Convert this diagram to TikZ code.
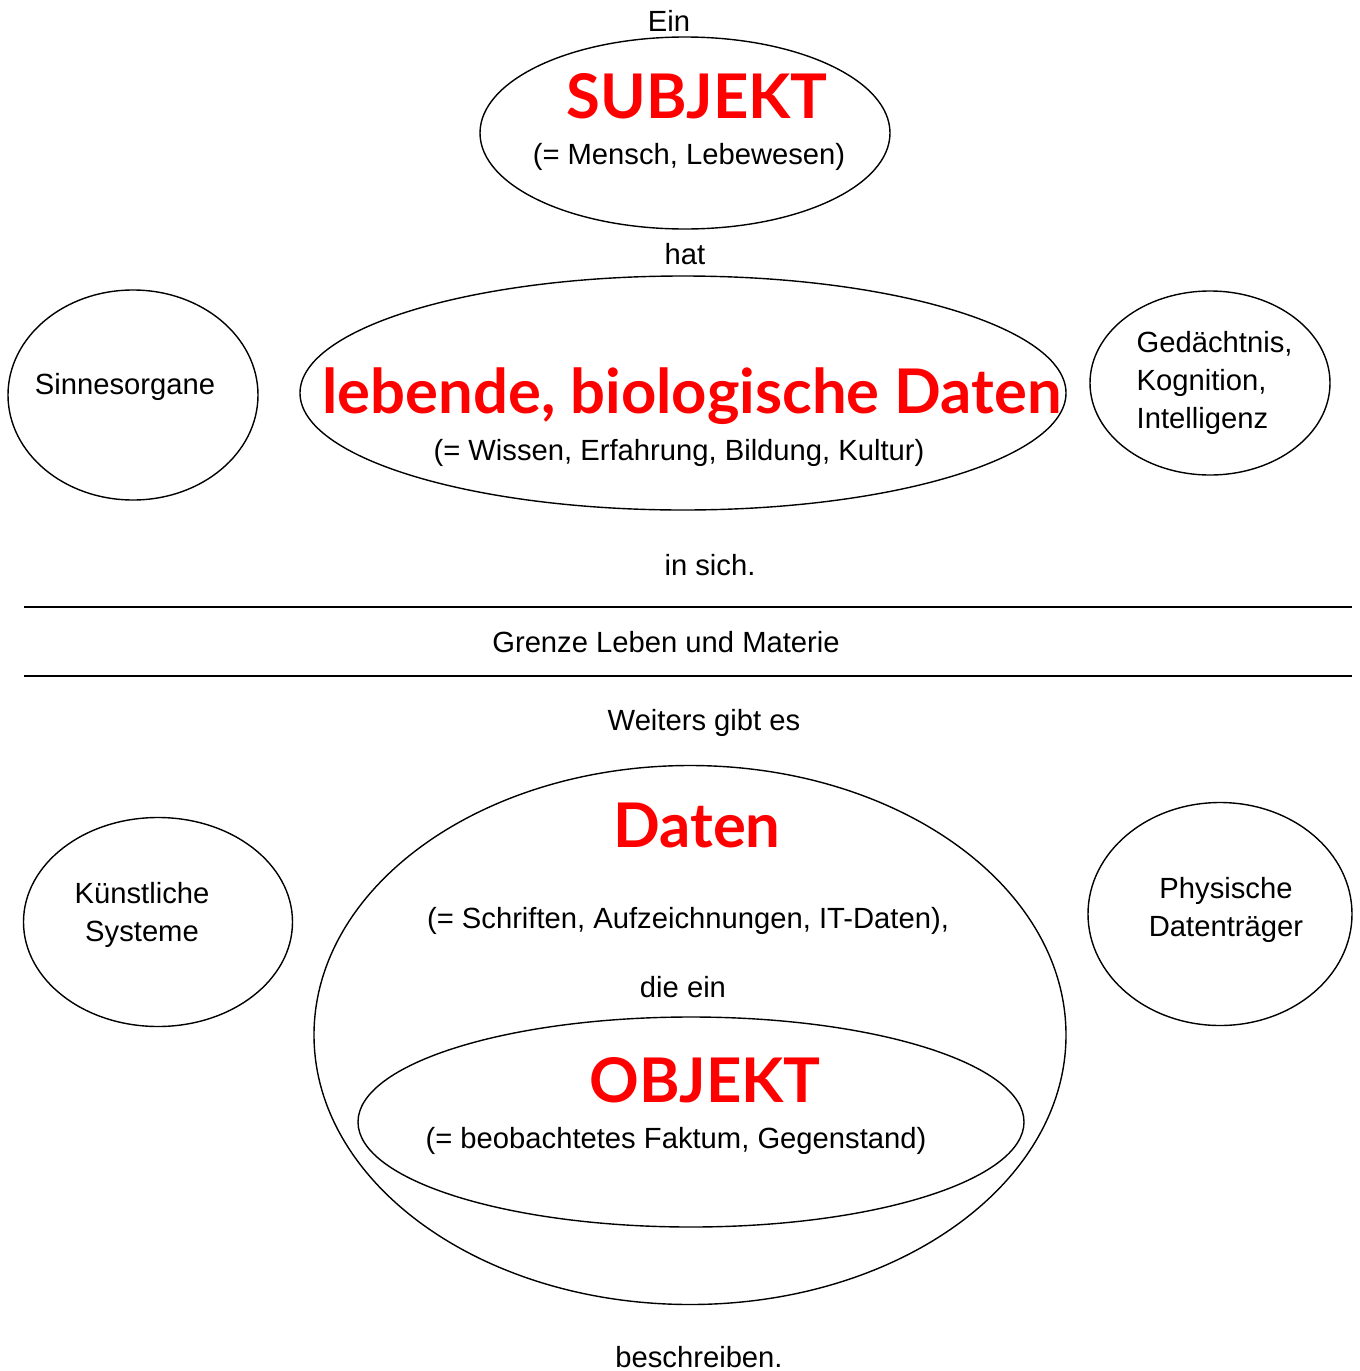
\documentclass[tikz,border=0pt]{standalone}
\usepackage{fontspec}
\setmainfont{Liberation Sans}
\newfontfamily\headfont{Lato}
\usepackage{tikz}
\usetikzlibrary{positioning,shapes}

\begin{document}
\begin{tikzpicture}[x = 0.5pt, y = -0.5pt, line width = 0.7pt,
blob/.style={ ellipse, draw, inner sep = 0pt },
txt/.style={ anchor = base, inner sep = 0pt, font = \fontsize{14.6}{17.5}\selectfont },
head/.style={ anchor = base, inner sep = 0pt, text = red, font = \headfont\bfseries\fontsize{30.8}{32}\selectfont }
]
\useasboundingbox (0,0) rectangle (1360,1371);
%upper half: the subject
\node (subj) at (685,133) [blob, minimum width = 205pt, minimum height = 96pt] {};
\node (ein) at (669,31) [txt] {Ein};
\node (subjt) at (697,118) [head] {SUBJEKT};
\node (mensch) at (689,164) [txt] {(= Mensch, Lebewesen)};
\node (hat) at (685,264) [txt] {hat};

\node (leb) at (683,393) [blob, minimum width = 383pt, minimum height = 117pt] {};
\node (lebt) at (692,413) [head] {lebende, biologische Daten};
\node (wissen) at (679,460) [txt] {(= Wissen, Erfahrung, Bildung, Kultur)};
\node (insich) at (710,575) [txt] {in sich.};

\node (sinne) at (133,395) [blob, minimum width = 125pt, minimum height = 105pt] {};
\node (sinnet) at (125,394) [txt] {Sinnesorgane};
\node (gedae) at (1210,383) [blob, minimum width = 120pt, minimum height = 92pt] {};
\node (gedaet) at (1136,428) [txt, anchor = base west, align = left] {Gedächtnis,\\[1.5pt]Kognition,\\[1.5pt]Intelligenz};

%border
\coordinate (g1) at (24,607);
\coordinate (g2) at (1352,607);
\coordinate (g3) at (24,676);
\coordinate (g4) at (1352,676);
\draw (g1) -- (g2);
\draw (g3) -- (g4);
\node (grenze) at (666,652) [txt] {Grenze Leben und Materie};

%lower half: data and object
\node (weiters) at (704,730) [txt] {Weiters gibt es};
\node (daten) at (690,1035) [blob, minimum width = 376pt, minimum height = 269.5pt] {};
\node (datent) at (697,847) [head] {Daten};
\node (schrift) at (688,928) [txt] {(= Schriften, Aufzeichnungen, IT-Daten),};
\node (dieein) at (683,997) [txt] {die ein};
\node (obj) at (691,1122) [blob, minimum width = 333pt, minimum height = 105pt] {};
\node (objt) at (705,1102) [head] {OBJEKT};
\node (faktum) at (676,1148) [txt] {(= beobachtetes Faktum, Gegenstand)};
\node (beschr) at (699,1367) [txt] {beschreiben.};

\node (kuenst) at (158,922) [blob, minimum width = 134.5pt, minimum height = 104.5pt] {};
\node (kuenstt) at (142,941) [txt, align = center] {Künstliche\\[1.5pt]Systeme};
\node (phys) at (1220,914) [blob, minimum width = 132pt, minimum height = 111.5pt] {};
\node (physt) at (1226,936) [txt, align = center] {Physische\\[1.5pt]Datenträger};
\end{tikzpicture}
\end{document}
